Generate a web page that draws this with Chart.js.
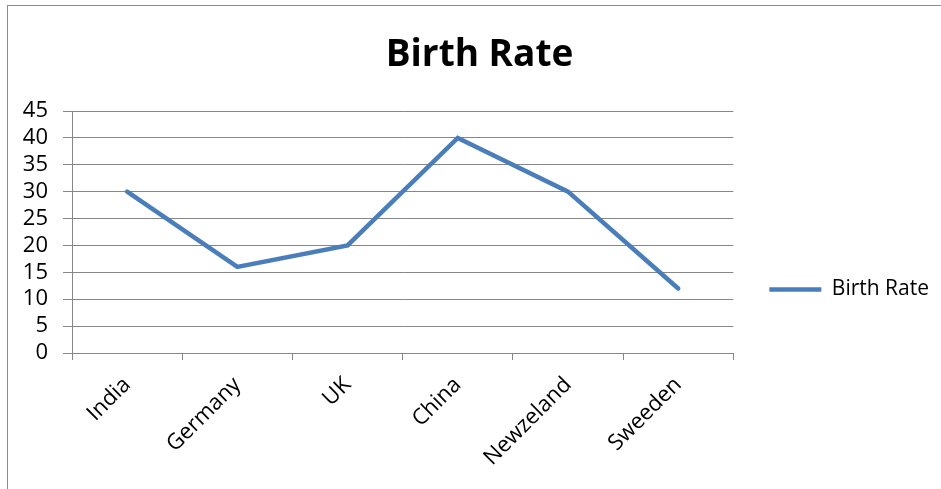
<!DOCTYPE html>
<html>
<head>
<meta charset="utf-8">
<script src="https://cdn.jsdelivr.net/npm/chart.js@4.4.1/dist/chart.umd.min.js"></script>
<style>
  body { margin: 0; overflow: hidden; background: #fff; }
  #wrap { position: relative; width: 941px; height: 489px; }
  #frame { position: absolute; left: 7px; top: 5px; width: 1000px; height: 1000px; border: 1px solid #8c8c8c; }
  #canvas { position: absolute; left: 0; top: 0; }
</style>
</head>
<body>
<div id="wrap">
  <div id="frame"></div>
  <canvas id="canvas" width="941" height="489"></canvas>
</div>
<script>
// birth rate per country
var countries = ['India', 'Germany', 'UK', 'China', 'Newzeland', 'Sweeden'];
var birthRate = [30, 16, 20, 40, 30, 12];
var seriesName = 'Birth Rate';
var yMin = 0;
var yMax = 45;
var yStep = 5;

var gridGray = '#878787';
var lineBlue = '#4a7ebb';
var font = "'Open Sans', 'Noto Sans', sans-serif";

var ctx = document.getElementById('canvas').getContext('2d');
var chart = new Chart(ctx, {
  type: 'line',
  data: {
    labels: countries,
    datasets: [{
      label: seriesName,
      data: birthRate,
      borderColor: lineBlue,
      backgroundColor: lineBlue,
      borderWidth: 4.5,
      borderCapStyle: 'round',
      borderJoinStyle: 'miter',
      pointRadius: 0,
      tension: 0,
      fill: false
    }]
  },
  options: {
    responsive: false,
    animation: false,
    events: [],
    layout: { padding: { left: 20, right: 2, top: 0, bottom: 0 } },
    plugins: {
      title: {
        display: true,
        text: 'Birth Rate',
        color: '#000',
        font: { family: font, size: 37, weight: 'bold', lineHeight: 1.2 },
        padding: { top: 33, bottom: 33.6 }
      },
      legend: {
        position: 'right',
        align: 'center',
        // empty title only pushes the entry down to where it sits in the picture
        title: { display: true, text: '', font: { size: 8, lineHeight: 1.2 }, padding: { top: 0, bottom: 80.4 } },
        labels: {
          usePointStyle: true,
          pointStyle: 'line',
          pointStyleWidth: 52,
          padding: 36,
          color: '#000',
          font: { family: font, size: 21 }
        }
      },
      tooltip: { enabled: false }
    },
    scales: {
      x: {
        offset: true,
        grid: { offset: true, drawOnChartArea: false, drawTicks: true, tickLength: 7, color: gridGray, lineWidth: 1 },
        border: { display: true, color: gridGray, width: 1 },
        ticks: { color: '#000', font: { family: font, size: 22 }, minRotation: 45, maxRotation: 45, padding: 12, autoSkip: false },
        afterFit: function(scale) { scale.height = 136; }
      },
      y: {
        min: yMin,
        max: yMax,
        grid: { color: gridGray, lineWidth: 1, drawTicks: true, tickLength: 9 },
        border: { display: true, color: gridGray, width: 1 },
        ticks: { stepSize: yStep, autoSkip: false, color: '#000', font: { family: font, size: 22 }, padding: 15 },
        afterFit: function(scale) { scale.width = 52; }
      }
    }
  }
});
</script>
</body>
</html>
